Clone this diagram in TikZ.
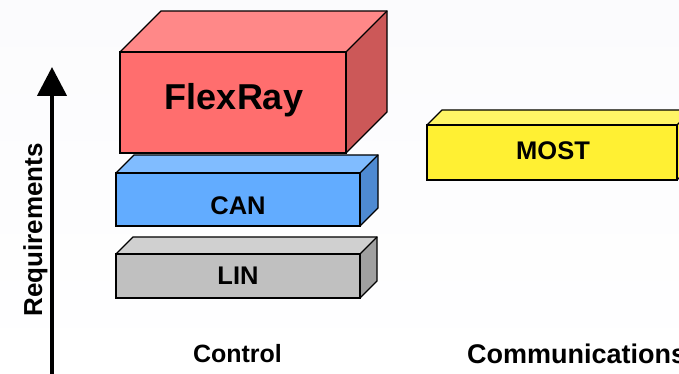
\documentclass[tikz,border=0pt]{standalone}
\usepackage{fontspec}
\setmainfont{Liberation Sans}
\usetikzlibrary{arrows.meta}
\definecolor{bgtop}{HTML}{FBFBFD}
\definecolor{flexfront}{HTML}{FF6E6E}
\definecolor{flextop}{HTML}{FF8888}
\definecolor{flexside}{HTML}{CC5858}
\definecolor{canfront}{HTML}{62ACFF}
\definecolor{cantop}{HTML}{80BCFF}
\definecolor{canside}{HTML}{4E8AD2}
\definecolor{linfront}{HTML}{C0C0C0}
\definecolor{lintop}{HTML}{D0D0D0}
\definecolor{linside}{HTML}{A0A0A0}
\definecolor{mostfront}{HTML}{FFF033}
\definecolor{mosttop}{HTML}{FFF566}
\tikzset{
  face/.style={draw=black, line width=1.2pt, line join=miter},
  front/.style={rectangle, inner sep=0pt, outer sep=0pt},
  boxtext/.style={font=\bfseries\fontsize{25.5}{25.5}\selectfont},
  axistext/.style={font=\bfseries\fontsize{25}{25}\selectfont},
}
% top and side faces of a block whose front face is node #1, depth #2
\newcommand{\blockfaces}[4]{%
  \fill[#3] (#1.north west) -- ++(#2,#2) -- ([shift={(#2,#2)}]#1.north east) -- (#1.north east) -- cycle;
  \fill[#4] (#1.north east) -- ++(#2,#2) -- ([shift={(#2,#2)}]#1.south east) -- (#1.south east) -- cycle;
  \draw[face] (#1.north west) -- ++(#2,#2) -- ([shift={(#2,#2)}]#1.north east) -- ([shift={(#2,#2)}]#1.south east) -- (#1.south east);
  \draw[face] (#1.north east) -- ++(#2,#2);
  \draw[face] (#1.south west) rectangle (#1.north east);
}
\begin{document}
\begin{tikzpicture}[x=1pt,y=1pt]
  \useasboundingbox (0,0) rectangle (679,374);
  \shade[top color=bgtop, bottom color=white] (0,0) rectangle (679,374);

  % FlexRay block
  \node[front, fill=flexfront, minimum width=226pt, minimum height=101pt] (flexray) at (233,271.5) {};
  \blockfaces{flexray}{41}{flextop}{flexside}
  \node[font=\bfseries\fontsize{36}{36}\selectfont] (flexraytext) at ([xshift=1pt,yshift=2pt]flexray.center) {FlexRay};

  % CAN block
  \node[front, fill=canfront, minimum width=244pt, minimum height=53pt] (can) at (238,174.5) {};
  \blockfaces{can}{18}{cantop}{canside}
  \node[boxtext] (cantext) at ([yshift=-6pt]can.center) {CAN};

  % LIN block
  \node[front, fill=linfront, minimum width=244pt, minimum height=44pt] (lin) at (238,98) {};
  \blockfaces{lin}{17}{lintop}{linside}
  \node[boxtext] (lintext) at (lin.center) {LIN};

  % MOST block
  \node[front, fill=mostfront, minimum width=250pt, minimum height=55pt] (most) at (552,221.5) {};
  \blockfaces{most}{15}{mosttop}{mostfront}
  \node[boxtext] (mosttext) at ([xshift=1pt,yshift=2pt]most.center) {MOST};

  % requirements axis
  \coordinate (axisfoot) at (52,-5);
  \coordinate (axistip) at (52,307);
  \draw[line width=4.5pt, -{Triangle[width=29pt,length=29pt]}] (axisfoot) -- (axistip);
  \node[font=\bfseries\fontsize{26}{26}\selectfont, rotate=90, anchor=base] (req) at (42,144) {Requirements};

  % column labels
  \node[axistext] (control) at (237.5,20) {Control};
  \node[font=\bfseries\fontsize{27}{27}\selectfont, anchor=west, inner sep=0pt] (comm) at (467,20) {Communications};
\end{tikzpicture}
\end{document}
